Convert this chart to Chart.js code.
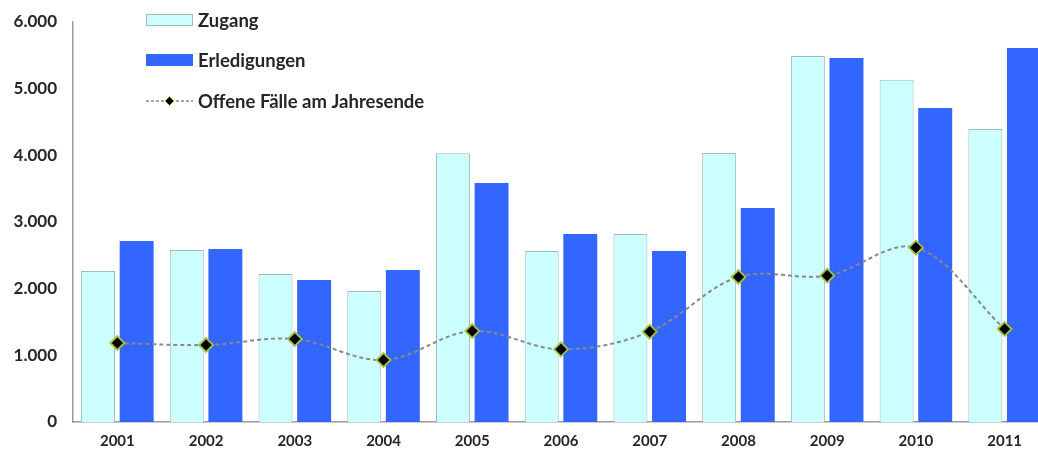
<!DOCTYPE html>
<html>
<head>
<meta charset="utf-8">
<script src="https://cdn.jsdelivr.net/npm/chart.js@4.4.0/dist/chart.umd.min.js"></script>
<style>
  html, body { margin: 0; padding: 0; background: #fff; overflow: hidden; }
  #wrap { width: 1050px; height: 454px; }
</style>
</head>
<body>
<div id="wrap"><canvas id="c" width="1050" height="454"></canvas></div>
<script>
const years = ['2001','2002','2003','2004','2005','2006','2007','2008','2009','2010','2011'];
const zugang = [2265, 2580, 2220, 1965, 4030, 2565, 2820, 4035, 5490, 5135, 4395];
const erledigungen = [2715, 2595, 2130, 2280, 3585, 2820, 2565, 3210, 5460, 4710, 5610];
const offeneFaelle = [1185, 1155, 1245, 930, 1365, 1090, 1355, 2175, 2195, 2615, 1395];
const seriesNames = ['Zugang', 'Erledigungen', 'Offene Fälle am Jahresende'];
const yTicks = [0, 1000, 2000, 3000, 4000, 5000, 6000];

const FONT = 'Lato, "Liberation Sans", sans-serif';

const legendPlugin = {
  id: 'customLegend',
  afterDraw(chart) {
    const ctx = chart.ctx;
    const ds = chart.data.datasets;
    const x0 = 146, sw = 47, tx = 198;
    const rows = [20, 60, 101];
    ctx.save();
    ctx.font = 'bold 18.5px ' + FONT;
    ctx.textBaseline = 'middle';
    for (let i = 0; i < 2; i++) {
      ctx.fillStyle = ds[i].backgroundColor;
      ctx.fillRect(x0, rows[i] - 6, sw, 12);
      if (ds[i].borderWidth) {
        ctx.strokeStyle = ds[i].borderColor;
        ctx.lineWidth = 1;
        ctx.strokeRect(x0 + 0.5, rows[i] - 5.5, sw - 1, 11);
      }
    }
    const l = ds[2];
    ctx.strokeStyle = l.borderColor;
    ctx.lineWidth = 1.5;
    ctx.setLineDash([3, 2]);
    ctx.beginPath();
    ctx.moveTo(x0, rows[2]);
    ctx.lineTo(x0 + sw, rows[2]);
    ctx.stroke();
    ctx.setLineDash([]);
    const cx = x0 + sw / 2, r = 4.5;
    ctx.beginPath();
    ctx.moveTo(cx, rows[2] - r);
    ctx.lineTo(cx + r, rows[2]);
    ctx.lineTo(cx, rows[2] + r);
    ctx.lineTo(cx - r, rows[2]);
    ctx.closePath();
    ctx.fillStyle = l.pointBackgroundColor;
    ctx.fill();
    ctx.strokeStyle = l.pointBorderColor;
    ctx.lineWidth = 1;
    ctx.stroke();
    ctx.fillStyle = '#262626';
    for (let i = 0; i < 3; i++) {
      ctx.fillText(seriesNames[i], tx, rows[i] + 1);
    }
    ctx.restore();
  }
};

new Chart(document.getElementById('c'), {
  data: {
    labels: years,
    datasets: [
      {
        type: 'bar',
        label: seriesNames[0],
        data: zugang,
        backgroundColor: '#CCFFFF',
        borderColor: '#9FBABA',
        borderWidth: 1,
        categoryPercentage: 0.87,
        barPercentage: 0.88,
        order: 2
      },
      {
        type: 'bar',
        label: seriesNames[1],
        data: erledigungen,
        backgroundColor: '#3366FF',
        borderWidth: 0,
        categoryPercentage: 0.87,
        barPercentage: 0.88,
        order: 2
      },
      {
        type: 'line',
        label: seriesNames[2],
        data: offeneFaelle,
        borderColor: '#888888',
        borderWidth: 2,
        borderDash: [4, 3],
        tension: 0.35,
        pointStyle: 'rectRot',
        pointRadius: 7,
        pointHoverRadius: 7,
        pointBackgroundColor: '#000000',
        pointBorderColor: '#A8C040',
        pointBorderWidth: 1.8,
        fill: false,
        order: 0
      }
    ]
  },
  options: {
    responsive: false,
    animation: false,
    events: [],
    layout: { autoPadding: false, padding: { top: 22, right: 1, bottom: 0, left: 0 } },
    plugins: {
      legend: { display: false },
      tooltip: { enabled: false }
    },
    scales: {
      x: {
        grid: { display: false, drawTicks: false },
        border: { display: true, color: '#9A9A9A', width: 1.5 },
        ticks: {
          color: '#262626',
          font: { family: FONT, size: 15, weight: 'bold' },
          padding: 10,
          maxRotation: 0
        },
        afterFit(scale) {
          scale.height = 32;
          scale.paddingLeft = 0; scale.paddingRight = 0;
        }
      },
      y: {
        min: 0,
        max: 6000,
        grid: { display: false, drawTicks: false },
        border: { display: true, color: '#9A9A9A', width: 1.5 },
        afterBuildTicks(scale) { scale.ticks = yTicks.map(v => ({ value: v })); },
        ticks: {
          color: '#262626',
          font: { family: FONT, size: 17, weight: 'bold' },
          padding: 16,
          callback: (v) => v === 0 ? '0' : (v / 1000).toFixed(3)
        },
        afterFit(scale) {
          scale.width = 73;
          scale.paddingTop = 0; scale.paddingBottom = 0;
        }
      }
    }
  },
  plugins: [legendPlugin]
});
</script>
</body>
</html>
